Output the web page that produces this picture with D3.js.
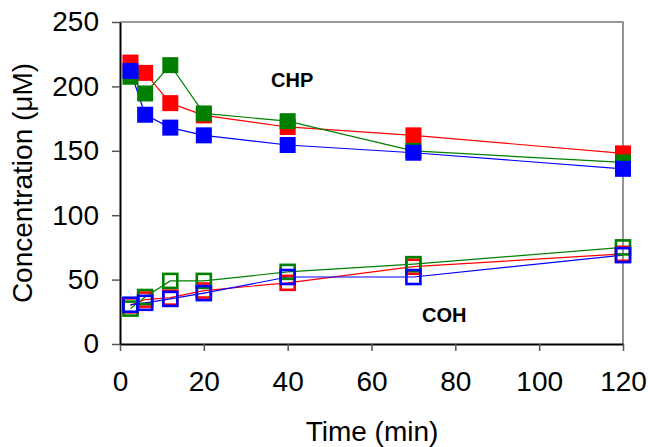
<!DOCTYPE html>
<html>
<head>
<meta charset="utf-8">
<script src="https://cdn.jsdelivr.net/npm/d3@7"></script>
<style>
  html, body { margin: 0; padding: 0; background: #fff; }
  svg text { font-family: "Liberation Sans", Arial, sans-serif; }
</style>
</head>
<body>
<svg id="chart" width="648" height="447"></svg>
<script>
// ---- data ----
const times = [2.5, 6, 12, 20, 40, 70, 120];
const chpRed   = [218.5, 210.5, 187, 177.5, 168.5, 162, 148];
const chpGreen = [207.5, 194.5, 216.5, 179, 173, 150, 141];
const chpBlue  = [212, 178, 168, 162, 154.5, 148.5, 136];
const cohRed   = [30, 34.5, 36, 41.5, 47.5, 60, 70];
const cohGreen = [27.5, 36.5, 49, 49, 56, 62, 75];
const cohBlue  = [30.5, 32, 35, 39.5, 52, 52, 69];
const xTicks = [0, 20, 40, 60, 80, 100, 120];
const yTicks = [0, 50, 100, 150, 200, 250];
const seriesColors = ["#ff0000", "#008000", "#0000ff"];
const labels = ["CHP", "COH"];

const svg = d3.select("#chart");
const mLeft = 120, mRight = 623, mTop = 22, mBottom = 344;
const x = d3.scaleLinear().domain([0, 120]).range([mLeft, mRight]);
const y = d3.scaleLinear().domain([0, 250]).range([mBottom, mTop]);

// frame (top & right)
svg.append("path")
  .attr("d", `M${mLeft},${mTop}H${mRight}V${mBottom}`)
  .attr("fill", "none").attr("stroke", "#7a7a7a").attr("stroke-width", 1.6);

// axes
const xAxis = svg.append("g").attr("transform", `translate(0,${mBottom})`)
  .call(d3.axisBottom(x).tickValues(xTicks).tickSize(7).tickSizeOuter(0).tickPadding(20));
const yAxis = svg.append("g").attr("transform", `translate(${mLeft},0)`)
  .call(d3.axisLeft(y).tickValues(yTicks).tickSize(8).tickSizeOuter(0).tickPadding(13));
[xAxis, yAxis].forEach(g => {
  g.select(".domain").attr("stroke", "#000").attr("stroke-width", 2);
  g.selectAll(".tick line").attr("stroke", "#555").attr("stroke-width", 1.5);
  g.selectAll(".tick text").attr("fill", "#000")
    .style("font-size", "28px").style("font-family", '"Liberation Sans", Arial, sans-serif');
});

// axis titles
svg.append("text").attr("x", 372).attr("y", 441).attr("text-anchor", "middle")
  .style("font-size", "28px").text("Time (min)");
svg.append("text").attr("transform", "translate(32,183) rotate(-90)")
  .attr("text-anchor", "middle").style("font-size", "28px").text("Concentration (\u03bcM)");

// series
const chp = [chpRed, chpGreen, chpBlue];
const coh = [cohRed, cohGreen, cohBlue];
const line = d3.line().x((d, i) => x(times[i])).y(d => y(d));

const allSeries = chp.map((v, i) => ({ v, c: seriesColors[i], filled: true }))
  .concat(coh.map((v, i) => ({ v, c: seriesColors[i], filled: false })));

allSeries.forEach(s => {
  svg.append("path").attr("d", line(s.v)).attr("fill", "none")
    .attr("stroke", s.c).attr("stroke-width", 1.2);
});
allSeries.forEach(s => {
  svg.append("g").selectAll("rect").data(s.v).join("rect")
    .attr("x", (d, i) => x(times[i]) - (s.filled ? 8 : 7))
    .attr("y", d => y(d) - (s.filled ? 8 : 7))
    .attr("width", s.filled ? 16 : 14)
    .attr("height", s.filled ? 16 : 14)
    .attr("fill", s.filled ? s.c : "none")
    .attr("stroke", s.filled ? "none" : s.c)
    .attr("stroke-width", s.filled ? 0 : 2.6);
});

// annotations
svg.append("text").attr("x", 271).attr("y", 87).style("font-size", "20px")
  .style("font-weight", "bold").text(labels[0]);
svg.append("text").attr("x", 422).attr("y", 322).style("font-size", "20px")
  .style("font-weight", "bold").text(labels[1]);
</script>
</body>
</html>
